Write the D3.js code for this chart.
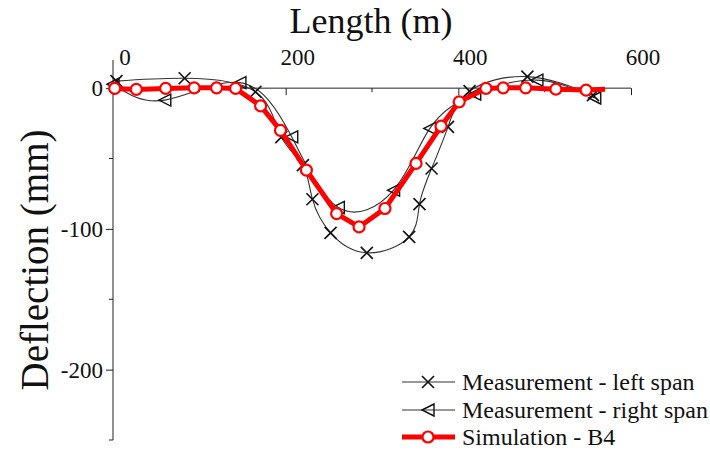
<!DOCTYPE html>
<html><head><meta charset="utf-8">
<script src="https://cdn.jsdelivr.net/npm/d3@7"></script>
<style>body{margin:0;background:#fff}svg{display:block;font-family:"Liberation Serif","Times New Roman",serif}</style>
</head><body><svg id="c" width="710" height="455"></svg>
<script>
const xTicks = [0, 200, 400, 600];
const xMinor = [100, 300, 500];
const yTicks = [0, -100, -200];
const yMinor = [-50, -150, -250];

const simX = [2, 27, 61, 94, 120, 142, 171, 194, 224, 259, 285, 315, 351, 380, 401, 432, 452, 478, 513, 548, 570];
const simY = [-0.2, -0.9, -0.2, 0.2, 0.2, -0.2, -12.6, -30, -58.3, -89.1, -98.6, -85.5, -53.5, -27, -9.7, -0.2, 0.2, 0.2, -0.7, -1.4, -0.7];

const leftX = [4, 83, 165, 195, 220, 231, 252, 294, 343, 355, 369, 388, 413, 480, 556];
const leftY = [5, 7, -2.6, -34.8, -54.7, -78.9, -102.8, -117, -105.7, -82.4, -57.1, -27.5, -2.1, 8.2, -5];

const rightX = [0, 60, 147, 207, 261, 325, 367, 419, 491, 558];
const rightY = [2.8, -8.5, 3.9, -34.6, -84.8, -72.5, -28.6, -4.3, 5.7, -7];

const legendLabels = ["Measurement - left span", "Measurement - right span", "Simulation - B4"];

const svg = d3.select("#c");
const x = d3.scaleLinear().domain([0, 600]).range([113, 631]);
const y = d3.scaleLinear().domain([-250, 20]).range([440, 60]);

// axes
const xAxis = d3.axisBottom(x).tickValues(xTicks).tickSize(7).tickFormat("");
const gx = svg.append("g").attr("transform", `translate(0,${y(0)})`).call(xAxis);
gx.call(g => g.select(".domain").attr("d", `M${x(0)},0H${x(600)}`));
gx.selectAll(".tick line").attr("stroke", "#222");
gx.append("g").selectAll("line").data(xMinor).join("line")
  .attr("x1", d => x(d)).attr("x2", d => x(d)).attr("y1", 0).attr("y2", 4).attr("stroke", "#222");
svg.append("g").selectAll("text").data(xTicks).join("text")
  .attr("x", d => x(d) + 12).attr("y", 65).attr("text-anchor", "middle")
  .attr("font-size", 23).attr("fill", "#111").text(d => d);

const yAxis = d3.axisLeft(y).tickValues(yTicks).tickSize(7).tickFormat(d => d);
const gy = svg.append("g").attr("transform", `translate(${x(0)},0)`).call(yAxis);
gy.call(g => g.select(".domain").attr("d", `M0,${y(20)}V${y(-250)}`));
gy.selectAll(".tick line").attr("stroke", "#222");
gy.selectAll(".tick text").attr("font-size", 23).attr("font-family", "Liberation Serif").attr("fill", "#111").attr("x", -10);
gy.append("g").selectAll("line").data(yMinor).join("line")
  .attr("y1", d => y(d)).attr("y2", d => y(d)).attr("x1", 0).attr("x2", -4).attr("stroke", "#222");
svg.selectAll(".domain").attr("stroke", "#222");

svg.append("text").attr("x", 371).attr("y", 33).attr("text-anchor", "middle")
  .attr("font-size", 36).attr("fill", "#111").text("Length (m)");
svg.append("text").attr("transform", "translate(48,260) rotate(-90)").attr("text-anchor", "middle")
  .attr("font-size", 39).attr("fill", "#111").text("Deflection (mm)");

// markers
function xMark(g, cx, cy, s) {
  g.append("path").attr("d", `M${cx-s},${cy-s}L${cx+s},${cy+s}M${cx-s},${cy+s}L${cx+s},${cy-s}`)
    .attr("stroke", "#111").attr("stroke-width", 1.6).attr("fill", "none");
}
function triMark(g, cx, cy, s) {
  g.append("path").attr("d", `M${cx-s},${cy}L${cx+s},${cy-s}L${cx+s},${cy+s}Z`)
    .attr("stroke", "#111").attr("stroke-width", 1.4).attr("fill", "none");
}

const line = d3.line().x(d => x(d[0])).y(d => y(d[1])).curve(d3.curveNatural);
const leftData = leftX.map((v, i) => [v, leftY[i]]);
const rightData = rightX.map((v, i) => [v, rightY[i]]);
const simData = simX.map((v, i) => [v, simY[i]]);

svg.append("path").datum(leftData).attr("d", line).attr("fill", "none").attr("stroke", "#333").attr("stroke-width", 1.1);
svg.append("path").datum(rightData).attr("d", line).attr("fill", "none").attr("stroke", "#333").attr("stroke-width", 1.1);
const gm = svg.append("g");
leftData.forEach(d => xMark(gm, x(d[0]), y(d[1]), 6));
rightData.forEach(d => triMark(gm, x(d[0]), y(d[1]), 6));

const simLine = d3.line().x(d => x(d[0])).y(d => y(d[1])).curve(d3.curveLinear);
svg.append("path").datum([[0, simY[0]]].concat(simData)).attr("d", simLine).attr("fill", "none")
  .attr("stroke", "#ff0000").attr("stroke-width", 5).attr("stroke-linejoin", "round");
svg.append("g").selectAll("circle").data(simData.slice(0, -1)).join("circle")
  .attr("cx", d => x(d[0])).attr("cy", d => y(d[1])).attr("r", 5.5)
  .attr("fill", "#fff").attr("stroke", "#ff0000").attr("stroke-width", 2.2);

// legend
const lg = svg.append("g");
const ly = [382, 410, 437];
legendLabels.forEach((t, i) => {
  const yy = ly[i];
  if (i < 2) {
    lg.append("line").attr("x1", 402).attr("x2", 455).attr("y1", yy).attr("y2", yy).attr("stroke", "#333").attr("stroke-width", 1.1);
    if (i === 0) xMark(lg, 428, yy, 6); else triMark(lg, 428, yy, 6);
  } else {
    lg.append("line").attr("x1", 402).attr("x2", 455).attr("y1", yy).attr("y2", yy).attr("stroke", "#ff0000").attr("stroke-width", 5);
    lg.append("circle").attr("cx", 428).attr("cy", yy).attr("r", 5.5).attr("fill", "#fff").attr("stroke", "#ff0000").attr("stroke-width", 2.2);
  }
  lg.append("text").attr("x", 462).attr("y", yy + 8).attr("font-size", 24).attr("fill", "#111").text(t);
});
</script></body></html>
